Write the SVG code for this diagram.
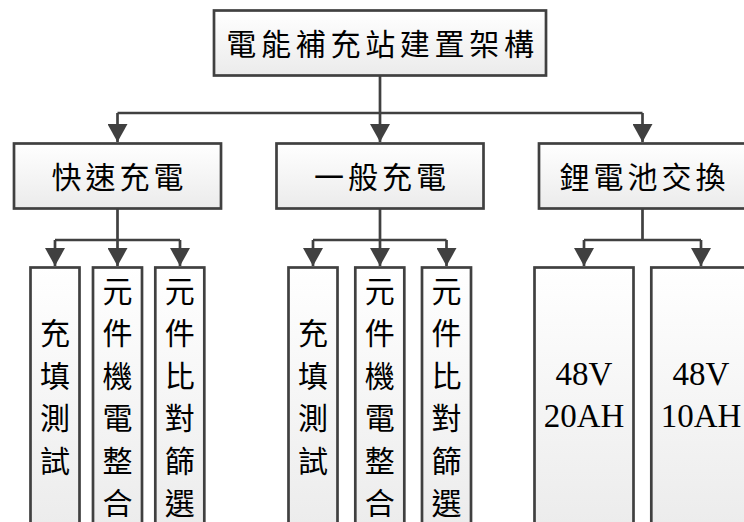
<svg xmlns="http://www.w3.org/2000/svg" width="744" height="522" viewBox="0 0 744 522">
<defs>
<linearGradient id="g" x1="0" y1="0" x2="0" y2="1">
<stop offset="0" stop-color="#ffffff"/>
<stop offset="1" stop-color="#ebebeb"/>
</linearGradient>
<marker id="arr" viewBox="0 0 18 20" refX="18" refY="10" markerWidth="18" markerHeight="20" markerUnits="userSpaceOnUse" orient="auto">
<path d="M0,0 L18,10 L0,20 z" fill="#404040"/>
</marker>
<style>
.box{fill:url(#g);stroke:#404040;stroke-width:2.7}
.cn{font-family:"Noto Sans CJK TC","Noto Sans CJK SC",sans-serif;font-size:30px;fill:#000}
.en{font-family:"Liberation Serif",serif;font-size:33px;fill:#000;text-anchor:middle}
.ln{fill:none;stroke:#404040;stroke-width:2.7}
.ar{fill:none;stroke:#404040;stroke-width:2.7;marker-end:url(#arr)}
</style>
</defs>
<rect width="744" height="522" fill="#ffffff"/>
<g id="connectors">
<path class="ln" d="M380,76 V113 M117.5,113 H642.5"/>
<path class="ar" d="M117.5,113 V142"/>
<path class="ar" d="M380,113 V142"/>
<path class="ar" d="M642.5,113 V142"/>
<path class="ln" d="M117.5,209 V240 M55,240 H180"/>
<path class="ar" d="M55,240 V266"/>
<path class="ar" d="M117.5,240 V266"/>
<path class="ar" d="M180,240 V266"/>
<path class="ln" d="M380,209 V240 M313,240 H446.5"/>
<path class="ar" d="M313,240 V266"/>
<path class="ar" d="M380,240 V266"/>
<path class="ar" d="M446.5,240 V266"/>
<path class="ln" d="M642.5,209 V240 M584,240 H701"/>
<path class="ar" d="M584,240 V266"/>
<path class="ar" d="M701,240 V266"/>
</g>
<g id="root">
<rect class="box" x="214" y="10.5" width="332" height="65"/>
<text class="cn" x="382.5" y="55" text-anchor="middle" letter-spacing="4.7">電能補充站建置架構</text>
</g>
<g id="fast">
<rect class="box" x="14" y="143.5" width="207" height="65"/>
<text class="cn" x="119.5" y="188" text-anchor="middle" letter-spacing="4">快速充電</text>
</g>
<g id="normal">
<rect class="box" x="276.5" y="143.5" width="207" height="65"/>
<text class="cn" x="382" y="188" text-anchor="middle" letter-spacing="4">一般充電</text>
</g>
<g id="swap">
<rect class="box" x="539" y="143.5" width="207" height="65"/>
<text class="cn" x="644.5" y="188" text-anchor="middle" letter-spacing="4">鋰電池交換</text>
</g>
<g id="fast-fill">
<rect class="box" x="30.5" y="267.5" width="49" height="270"/>
<text class="cn" text-anchor="middle"><tspan x="55" y="344">充</tspan><tspan x="55" y="386.5">填</tspan><tspan x="55" y="429">測</tspan><tspan x="55" y="471.5">試</tspan></text>
</g>
<g id="fast-mech">
<rect class="box" x="93" y="267.5" width="49" height="270"/>
<text class="cn" text-anchor="middle"><tspan x="117.5" y="301.5">元</tspan><tspan x="117.5" y="344">件</tspan><tspan x="117.5" y="386.5">機</tspan><tspan x="117.5" y="429">電</tspan><tspan x="117.5" y="471.5">整</tspan><tspan x="117.5" y="514">合</tspan></text>
</g>
<g id="fast-cmp">
<rect class="box" x="155.3" y="267.5" width="49" height="270"/>
<text class="cn" text-anchor="middle"><tspan x="179.8" y="301.5">元</tspan><tspan x="179.8" y="344">件</tspan><tspan x="179.8" y="386.5">比</tspan><tspan x="179.8" y="429">對</tspan><tspan x="179.8" y="471.5">篩</tspan><tspan x="179.8" y="514">選</tspan></text>
</g>
<g id="normal-fill">
<rect class="box" x="288.5" y="267.5" width="49" height="270"/>
<text class="cn" text-anchor="middle"><tspan x="313" y="344">充</tspan><tspan x="313" y="386.5">填</tspan><tspan x="313" y="429">測</tspan><tspan x="313" y="471.5">試</tspan></text>
</g>
<g id="normal-mech">
<rect class="box" x="355.3" y="267.5" width="49" height="270"/>
<text class="cn" text-anchor="middle"><tspan x="379.8" y="301.5">元</tspan><tspan x="379.8" y="344">件</tspan><tspan x="379.8" y="386.5">機</tspan><tspan x="379.8" y="429">電</tspan><tspan x="379.8" y="471.5">整</tspan><tspan x="379.8" y="514">合</tspan></text>
</g>
<g id="normal-cmp">
<rect class="box" x="422" y="267.5" width="49" height="270"/>
<text class="cn" text-anchor="middle"><tspan x="446.5" y="301.5">元</tspan><tspan x="446.5" y="344">件</tspan><tspan x="446.5" y="386.5">比</tspan><tspan x="446.5" y="429">對</tspan><tspan x="446.5" y="471.5">篩</tspan><tspan x="446.5" y="514">選</tspan></text>
</g>
<g id="bat20">
<rect class="box" x="534.5" y="267.5" width="99" height="270"/>
<text class="en"><tspan x="584" y="385">48V</tspan><tspan x="584" y="426.7">20AH</tspan></text>
</g>
<g id="bat10">
<rect class="box" x="651.3" y="267.5" width="99" height="270"/>
<text class="en"><tspan x="701" y="385">48V</tspan><tspan x="701" y="426.7">10AH</tspan></text>
</g>
</svg>
